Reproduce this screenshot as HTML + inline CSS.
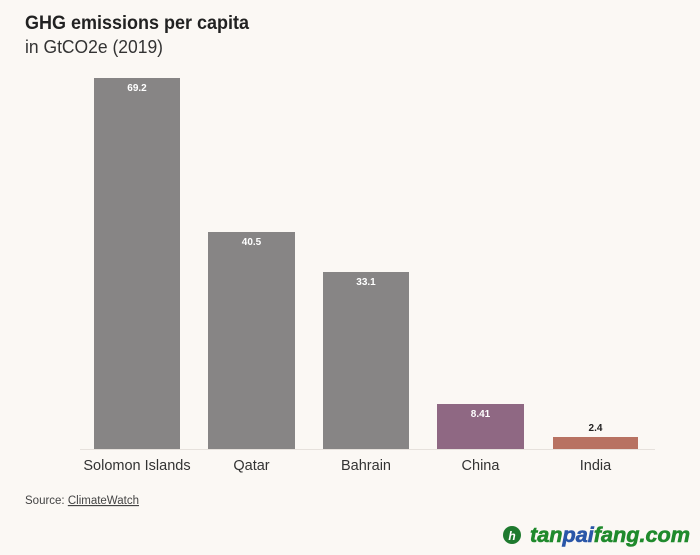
<!DOCTYPE html>
<html><head><meta charset="utf-8"><style>
html,body{margin:0;padding:0;background:#fbf8f4;}
svg{display:block;font-family:"Liberation Sans",sans-serif;}
</style></head><body>
<svg width="700" height="555" viewBox="0 0 700 555" xmlns="http://www.w3.org/2000/svg">
<rect width="700" height="555" fill="#fbf8f4"/>
<text x="25" y="29" font-size="19.5" font-weight="bold" fill="#222" textLength="224" lengthAdjust="spacingAndGlyphs">GHG emissions per capita</text>
<text x="25" y="53" font-size="18" fill="#333" textLength="138" lengthAdjust="spacingAndGlyphs">in GtCO2e (2019)</text>
<line x1="80" y1="449.5" x2="655" y2="449.5" stroke="#e6e1dc" stroke-width="1"/>
<rect x="94" y="78" width="86" height="371" fill="#878585"/>
<rect x="208" y="232" width="87" height="217" fill="#878585"/>
<rect x="323" y="272" width="86" height="177" fill="#878585"/>
<rect x="437" y="404" width="87" height="45" fill="#8f6883"/>
<rect x="553" y="437" width="85" height="12" fill="#b87262"/>
<g font-size="10" font-weight="bold" text-anchor="middle">
<text x="137" y="91" fill="#fff">69.2</text>
<text x="251.5" y="245" fill="#fff">40.5</text>
<text x="366" y="285" fill="#fff">33.1</text>
<text x="480.5" y="417" fill="#fff">8.41</text>
<text x="595.5" y="431" fill="#222">2.4</text>
</g>
<g font-size="14.5" text-anchor="middle" fill="#333">
<text x="137" y="470">Solomon Islands</text>
<text x="251.5" y="470">Qatar</text>
<text x="366" y="470">Bahrain</text>
<text x="480.5" y="470">China</text>
<text x="595.5" y="470">India</text>
</g>
<text x="25" y="504" font-size="11.5" fill="#444">Source: <tspan text-decoration="underline">ClimateWatch</tspan></text>
<circle cx="512" cy="535" r="9" fill="#1e7a2e"/>
<text x="512" y="540" font-size="12" font-weight="bold" font-style="italic" fill="#fff" text-anchor="middle">h</text>
<text x="530" y="542" font-size="21" font-weight="bold" font-style="italic" fill="#1f8a2c" stroke="#1f8a2c" stroke-width="0.6" textLength="160" lengthAdjust="spacingAndGlyphs">tan<tspan fill="#2a56a8" stroke="#2a56a8">pai</tspan>fang.com</text>
</svg>
</body></html>
